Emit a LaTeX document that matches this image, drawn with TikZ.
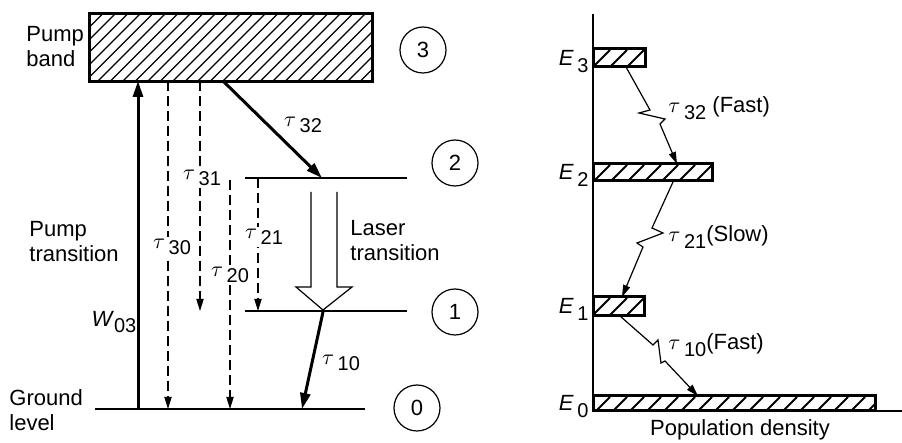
\documentclass[tikz,border=0pt]{standalone}
\usepackage{fontspec}
\setmainfont{Liberation Sans}
\usetikzlibrary{arrows.meta,positioning,calc}

\newcommand{\tauof}[1]{$\tau$\,\raisebox{-0.55ex}{\fontsize{10}{10}\selectfont #1}}
\newcommand{\lvlE}[1]{\textit{E}\,\raisebox{-0.6ex}{\fontsize{10}{10}\selectfont #1}}

\begin{document}
\begin{tikzpicture}[x=0.5pt,y=-0.5pt,
    every node/.style={font=\fontsize{11}{12.5}\selectfont},
    level/.style={line width=0.6pt},
    lvlnum/.style={draw,circle,line width=0.6pt,minimum size=23pt,inner sep=0pt},
    txt/.style={align=left,anchor=west,inner sep=0pt},
    taulab/.style={fill=white,inner sep=1pt},
    decay/.style={dashed,dash pattern=on 5pt off 2.5pt,line width=0.6pt,-{Triangle[length=6pt,width=3.6pt]}},
    bold/.style={line width=1.5pt,-{Triangle[length=8pt,width=5pt]}},
    zig/.style={line width=0.6pt,-{Triangle[length=6pt,width=3.6pt]}},
    bar/.style={draw,line width=1.1pt,inner sep=0pt,anchor=south west}]
\useasboundingbox (0,0) rectangle (902,443);

% Pump band
\node[draw,line width=1pt,minimum width=141pt,minimum height=33.5pt,inner sep=0pt] (pump) at (231,47.5) {};
\begin{scope}
\clip (pump.south west) rectangle (pump.north east);
\foreach \i in {0,...,28}
    \draw[line width=0.6pt] (23+\i*12.5,81) -- ++(67,-67);
\end{scope}
\draw[line width=1pt] (pump.south west) rectangle (pump.north east);
\node[txt] (bandtxt) at (26,47) {Pump\\band};

% Energy levels
\coordinate (l2w) at (245,178);
\coordinate (l2e) at (407,178);
\coordinate (l1w) at (245,311);
\coordinate (l1e) at (407,311);
\coordinate (l0w) at (95,409);
\coordinate (l0e) at (365,409);
\draw[level] (l2w) -- (l2e);
\draw[level] (l1w) -- (l1e);
\draw[level] (l0w) -- (l0e);

\node[lvlnum] (n3) at (423,50) {3};
\node[lvlnum] (n2) at (455,163) {2};
\node[lvlnum] (n1) at (455,312) {1};
\node[lvlnum] (n0) at (417,408) {0};

% Pump transition
\coordinate (w0) at (138,409);
\coordinate (w3) at (138,81);
\draw[bold] (w0) -- (w3);
\node (w03) at (114,322) {\textit{W}\raisebox{-0.55ex}{\fontsize{10}{10}\selectfont 03}};
\node[txt] (pumptxt) at (29,242) {Pump\\transition};

% Non-radiative decays
\coordinate (t30a) at (168,81);  \coordinate (t30b) at (168,409);
\coordinate (t31a) at (200,81);  \coordinate (t31b) at (200,311);
\coordinate (t20a) at (230,180); \coordinate (t20b) at (230,409);
\coordinate (t21a) at (258,178); \coordinate (t21b) at (258,311);
\draw[decay] (t30a) -- (t30b);
\draw[decay] (t31a) -- (t31b);
\draw[decay] (t20a) -- (t20b);
\draw[decay] (t21a) -- (t21b);
\node[taulab] (lab30) at (172,247) {\tauof{30}};
\node[taulab] (lab31) at (202,178) {\tauof{31}};
\node[taulab] (lab20) at (230,275) {\tauof{20}};
\node[taulab] (lab21) at (264,237) {\tauof{21}};

% Fast decays 3->2 and 1->0
\coordinate (t32a) at (223,81);  \coordinate (t32b) at (322,178);
\coordinate (t10a) at (323,312); \coordinate (t10b) at (302,409);
\draw[bold] (t32a) -- (t32b);
\draw[bold] (t10a) -- (t10b);
\node (lab32) at (303,125) {\tauof{32}};
\node (lab10) at (341,363) {\tauof{10}};

% Laser transition
\coordinate (lt) at (323,310);
\draw[line width=0.6pt,line join=miter] ($(lt)+(-12,-118)$) -- ++(0,95) -- ++(-15,0) -- (lt)
    -- ++(29,-23) -- ++(-15,0) -- ++(0,-95);
\node[txt] (lasertxt) at (350,241) {Laser\\transition};
\node[txt] (groundtxt) at (9,410) {Ground\\level};

% Population diagram
\foreach \nm/\yb/\w/\h/\k in {e3/67/51/17/3, e2/181/118/16/2, e1/316/50/18/1, e0/411/281/14/0} {
    \node[bar,minimum width=\w*0.5pt,minimum height=\h*0.5pt] (\nm) at (593,\yb) {};
    \begin{scope}
    \clip (\nm.south west) rectangle (\nm.north east);
    \foreach \i in {0,...,17}
        \draw[line width=0.9pt] (593-\h+\i*17,\yb) -- ++(\h,-\h);
    \end{scope}
    \draw[line width=1.1pt] (\nm.south west) rectangle (\nm.north east);
    \node[anchor=east,inner sep=0pt] (lab\nm) at ([xshift=-2pt,yshift=-2pt]\nm.west) {\lvlE{\k}};
}
\coordinate (axtop) at (593,14);
\coordinate (axorg) at (593,411);
\coordinate (axend) at (902,411);
\draw[line width=0.7pt] (axtop) -- (axorg) -- (axend);

\coordinate (z32a) at (626,67);  \coordinate (z32b) at (677,164);
\coordinate (z21a) at (673,182); \coordinate (z21b) at (622,297);
\coordinate (z10a) at (620,316); \coordinate (z10b) at (698,396);
\draw[zig] (z32a) -- ++(24,43) -- ++(-11,3) -- ++(26,6) -- ++(-5,5) -- (z32b);
\draw[zig] (z21a) -- ++(-21,46) -- ++(11,5) -- ++(-26,10) -- ++(6,4) -- (z21b);
\draw[zig] (z10a) -- ++(33,29) -- ++(5,-5) -- ++(3,23) -- ++(4,-2) -- (z10b);
\node[txt] (fast32) at (668,108) {\tauof{32} (Fast)};
\node[txt] (slow21) at (668,237) {\tauof{21}(Slow)};
\node[txt] (fast10) at (668,345) {\tauof{10}(Fast)};
\node (popdens) at (740,430) {Population density};
\end{tikzpicture}
\end{document}
